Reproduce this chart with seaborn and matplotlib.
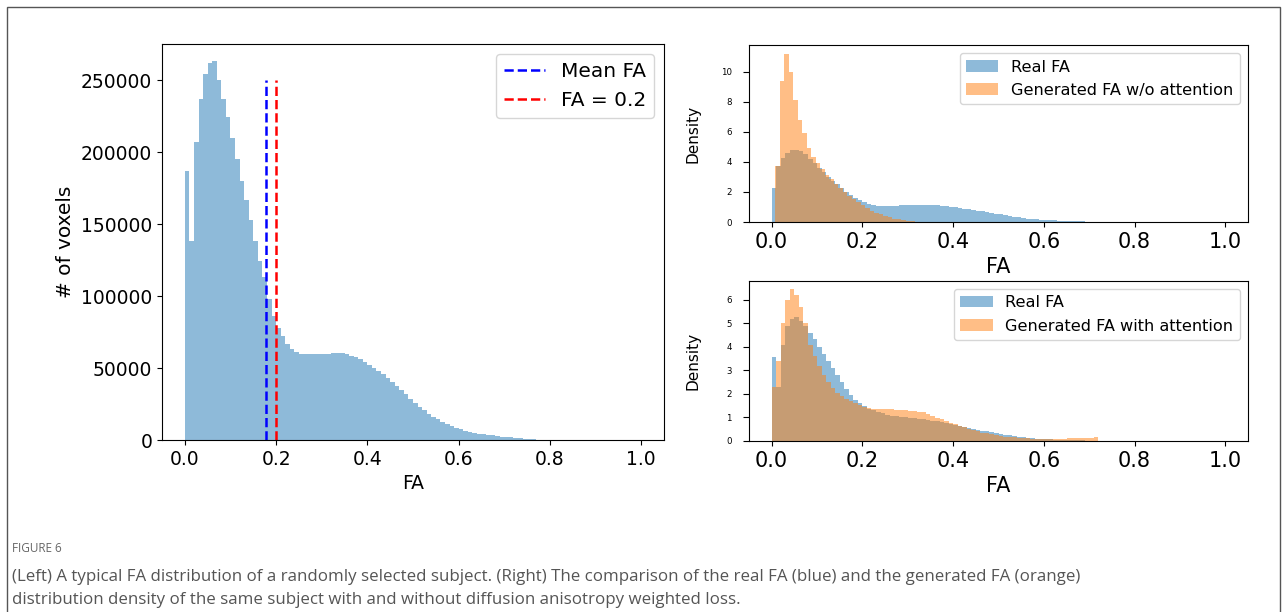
import numpy as np
import pandas as pd
import matplotlib
matplotlib.use("Agg")
import matplotlib.pyplot as plt
import seaborn as sns
from matplotlib.patches import Rectangle

# ---------------- data ----------------
# Left: FA histogram (counts), 100 bins of width 0.01 on [0, 1]
left_edges = [round(i * 0.01, 4) for i in range(101)]
left_counts = [
    187000, 138000, 207000, 237000, 254000, 262000, 263000, 250000, 237000, 224000,
    210000, 195000, 180000, 167000, 153000, 138000, 124000, 113000, 98000, 86000,
    78000, 72000, 67000, 63000, 61000, 60000, 59800, 59700, 59700, 59800,
    59900, 60000, 60200, 60400, 60300, 59600, 58500, 57400, 56000, 54200,
    52300, 50300, 48000, 45500, 42900, 40300, 37600, 34800, 31800, 28800,
    26000, 23200, 20800, 18400, 16200, 14300, 12600, 11000, 9600, 8400,
    7300, 6400, 5600, 5000, 4500, 4000, 3600, 3200, 2800, 2400,
    2100, 1800, 1500, 1200, 900, 650, 450, 300, 180, 100,
    60, 30, 15, 8, 5, 4, 3, 2, 2, 1,
    1, 1, 0, 0, 0, 0, 0, 0, 0, 0,
]
mean_fa = 0.178
fa_threshold = 0.2
vline_top = 250000

# Right top: densities, real FA (bins of 0.01 from 0) and generated FA w/o attention
real_top_edges = [round(i * 0.01, 4) for i in range(101)]
real_top = [
    2.26, 3.75, 4.25, 4.6, 4.8, 4.82, 4.7, 4.5, 4.2, 3.9,
    3.6, 3.3, 3.0, 2.75, 2.5, 2.25, 2.0, 1.8, 1.6, 1.45,
    1.3, 1.2, 1.12, 1.08, 1.07, 1.07, 1.08, 1.09, 1.1, 1.11,
    1.12, 1.13, 1.13, 1.14, 1.13, 1.12, 1.1, 1.07, 1.04, 1.0,
    0.97, 0.93, 0.89, 0.85, 0.8, 0.75, 0.7, 0.65, 0.6, 0.55,
    0.5, 0.45, 0.4, 0.36, 0.31, 0.27, 0.23, 0.2, 0.17, 0.15,
    0.13, 0.115, 0.1, 0.09, 0.08, 0.07, 0.06, 0.05, 0.04, 0.03,
    0.022, 0.015, 0.008, 0.004, 0.002, 0, 0, 0, 0, 0,
    0, 0, 0, 0, 0, 0, 0, 0, 0, 0,
    0, 0, 0, 0, 0, 0, 0, 0, 0, 0,
]
gen_top_edges = [round(0.008 + i * 0.0099, 4) for i in range(101)]
gen_top = [
    3.7, 9.4, 11.2, 10.0, 8.1, 6.8, 5.9, 4.9, 4.3, 3.9,
    3.5, 3.15, 2.85, 2.55, 2.25, 2.0, 1.75, 1.5, 1.3, 1.1,
    0.92, 0.76, 0.62, 0.5, 0.4, 0.31, 0.23, 0.17, 0.12, 0.08,
    0.05, 0.03, 0.02, 0.01, 0.005, 0, 0, 0, 0, 0,
    0, 0, 0, 0, 0, 0, 0, 0, 0, 0,
    0, 0, 0, 0, 0, 0, 0, 0, 0, 0,
    0, 0, 0, 0, 0, 0, 0, 0, 0, 0,
    0, 0, 0, 0, 0, 0, 0, 0, 0, 0,
    0, 0, 0, 0, 0, 0, 0, 0, 0, 0,
    0, 0, 0, 0, 0, 0, 0, 0, 0, 0,
]

# Right bottom: densities, real FA and generated FA with attention (bins of 0.01 from 0)
bottom_edges = [round(i * 0.01, 4) for i in range(101)]
real_bottom = [
    3.56, 2.3, 4.1, 4.9, 5.2, 5.25, 5.1, 4.9, 4.6, 4.35,
    4.0, 3.7, 3.4, 3.1, 2.8, 2.5, 2.2, 1.95, 1.75, 1.6,
    1.48, 1.38, 1.3, 1.22, 1.17, 1.12, 1.08, 1.05, 1.02, 1.0,
    0.98, 0.96, 0.94, 0.92, 0.9, 0.87, 0.84, 0.8, 0.76, 0.72,
    0.68, 0.64, 0.6, 0.56, 0.52, 0.48, 0.44, 0.41, 0.37, 0.34,
    0.3, 0.27, 0.24, 0.21, 0.18, 0.16, 0.14, 0.12, 0.1, 0.09,
    0.08, 0.07, 0.06, 0.05, 0.045, 0.04, 0.035, 0.03, 0.025, 0.02,
    0.018, 0.015, 0.012, 0.01, 0.008, 0.005, 0.003, 0, 0, 0,
    0, 0, 0, 0, 0, 0, 0, 0, 0, 0,
    0, 0, 0, 0, 0, 0, 0, 0, 0, 0,
]
gen_bottom = [
    2.29, 3.4, 5.0, 6.0, 6.47, 6.2, 5.7, 5.0, 4.1, 3.6,
    3.2, 2.8, 2.5, 2.25, 2.05, 1.9, 1.78, 1.68, 1.6, 1.52,
    1.45, 1.4, 1.38, 1.36, 1.35, 1.35, 1.34, 1.33, 1.32, 1.3,
    1.28, 1.26, 1.25, 1.22, 1.15, 1.07, 0.98, 0.92, 0.85, 0.78,
    0.72, 0.65, 0.58, 0.52, 0.46, 0.41, 0.36, 0.32, 0.28, 0.25,
    0.22, 0.19, 0.17, 0.15, 0.13, 0.12, 0.11, 0.1, 0.1, 0.09,
    0.09, 0.09, 0.09, 0.1, 0.1, 0.11, 0.11, 0.12, 0.12, 0.13,
    0.14, 0.15, 0, 0, 0, 0, 0, 0, 0, 0,
    0, 0, 0, 0, 0, 0, 0, 0, 0, 0,
    0, 0, 0, 0, 0, 0, 0, 0, 0, 0,
]

caption_title = "FIGURE 6"
caption_lines = [
    "(Left) A typical FA distribution of a randomly selected subject. (Right) The comparison of the real FA (blue) and the generated FA (orange)",
    "distribution density of the same subject with and without diffusion anisotropy weighted loss.",
]

# ---------------- drawing ----------------
W, H = 1288, 612
fig = plt.figure(figsize=(W / 100, H / 100), dpi=100)


def ax_px(left, top, right, bottom):
    return fig.add_axes([left / W, (H - bottom) / H, (right - left) / W, (bottom - top) / H])


def hist(ax, edges, values, color, label=None):
    e = np.asarray(edges, dtype=float)
    df = pd.DataFrame({"fa": (e[:-1] + e[1:]) / 2, "w": np.asarray(values, dtype=float)})
    sns.histplot(data=df, x="fa", weights="w", bins=list(e), stat="count",
                 element="step", fill=True, alpha=0.5, color=color,
                 linewidth=0, ax=ax, label=label)


# Left panel
axL = ax_px(162, 44, 664, 440)
hist(axL, left_edges, left_counts, "#1f77b4")
axL.vlines(mean_fa, 0, vline_top, colors="blue", linestyles="--", linewidth=1.8, label="Mean FA")
axL.vlines(fa_threshold, 0, vline_top, colors="red", linestyles="--", linewidth=1.8, label="FA = 0.2")
axL.set_xlim(-0.05, 1.05)
axL.set_ylim(0, 275000)
axL.set_xticks([0.0, 0.2, 0.4, 0.6, 0.8, 1.0])
axL.set_yticks([0, 50000, 100000, 150000, 200000, 250000])
axL.tick_params(labelsize=13.5)
axL.set_xlabel("FA", fontsize=13.5)
axL.set_ylabel("# of voxels", fontsize=14.5)
axL.legend(loc="upper right", fontsize=14.5)


def style_right(ax, ymax, yticks):
    ax.set_xlim(-0.05, 1.05)
    ax.set_ylim(0, ymax)
    ax.set_xticks([0.0, 0.2, 0.4, 0.6, 0.8, 1.0])
    ax.set_yticks(yticks)
    ax.tick_params(axis="x", labelsize=15)
    ax.tick_params(axis="y", labelsize=6.2, length=4.5, pad=8)
    ax.set_xlabel("FA", fontsize=15)
    ax.set_ylabel("Density", fontsize=11)
    ax.yaxis.set_label_coords(-0.098, 0.5)
    ax.legend(loc="upper right", fontsize=11.6)


# Right top panel
axT = ax_px(749, 45, 1248, 222)
hist(axT, real_top_edges, real_top, "#1f77b4", label="Real FA")
hist(axT, gen_top_edges, gen_top, "#ff7f0e", label="Generated FA w/o attention")
style_right(axT, 11.78, [0, 2, 4, 6, 8, 10])

# Right bottom panel
axB = ax_px(749, 281, 1248, 441)
hist(axB, bottom_edges, real_bottom, "#1f77b4", label="Real FA")
hist(axB, bottom_edges, gen_bottom, "#ff7f0e", label="Generated FA with attention")
style_right(axB, 6.8, [0, 1, 2, 3, 4, 5, 6])

# Outer frame
fig.patches.append(Rectangle((7 / W, -0.05), (1280 - 7) / W, (H - 7) / H + 0.05,
                             transform=fig.transFigure, fill=False,
                             edgecolor="#555555", linewidth=1.0))

# Caption
fig.text(12 / W, (H - 548) / H, caption_title, fontsize=8.5, color="#666666",
         family="Open Sans", va="center", ha="left")
fig.text(12 / W, (H - 577) / H, caption_lines[0], fontsize=12.2, color="#555555",
         family="Open Sans", va="center", ha="left")
fig.text(12 / W, (H - 600) / H, caption_lines[1], fontsize=12.2, color="#555555",
         family="Open Sans", va="center", ha="left")

fig.savefig("out.png", dpi=100)
